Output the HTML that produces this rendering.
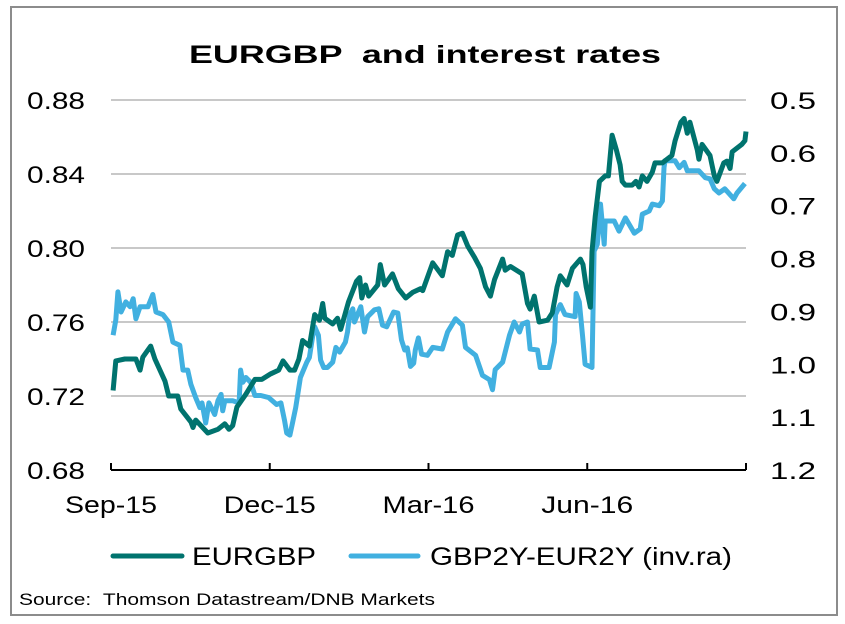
<!DOCTYPE html>
<html><head><meta charset="utf-8"><style>
html,body{margin:0;padding:0;background:#fff;}
svg{display:block;font-family:"Liberation Sans",Arial,sans-serif;}
</style></head><body>
<svg id="chart" width="845" height="624" viewBox="0 0 845 624">
<rect x="11" y="7" width="826" height="608" fill="#fff" stroke="#8c8c8c" stroke-width="2"/>
<text x="189" y="63" font-size="25" font-weight="bold" textLength="472" lengthAdjust="spacingAndGlyphs">EURGBP &#160;and interest rates</text>
<g id="grid"></g>
<g id="yl"></g>
<g id="yr"></g>
<g id="xa"></g>
<g id="series"></g>
<g>
<line x1="113" y1="556" x2="182" y2="556" stroke="#00736e" stroke-width="5" stroke-linecap="round"/>
<text x="192" y="565" font-size="25" textLength="124" lengthAdjust="spacingAndGlyphs">EURGBP</text>
<line x1="351" y1="556" x2="418" y2="556" stroke="#41b0e0" stroke-width="5" stroke-linecap="round"/>
<text x="430" y="565" font-size="25" textLength="302" lengthAdjust="spacingAndGlyphs">GBP2Y-EUR2Y (inv.ra)</text>
</g>
<text x="19" y="605" font-size="17" textLength="416" lengthAdjust="spacingAndGlyphs">Source: &#160;Thomson Datastream/DNB Markets</text>
</svg>
<script>
// months since 1 Sep 2015
const eurMonths=[0.04,0.09,0.26,0.47,0.55,0.60,0.75,0.83,1.02,1.09,1.26,1.32,1.51,1.55,1.60,1.83,2.02,2.15,2.23,2.30,2.38,2.55,2.72,2.85,3.02,3.17,3.25,3.38,3.47,3.55,3.62,3.75,3.85,3.94,4.00,4.04,4.19,4.28,4.34,4.49,4.64,4.70,4.74,4.81,4.87,5.04,5.09,5.17,5.32,5.43,5.57,5.70,5.85,5.89,6.08,6.26,6.36,6.45,6.55,6.64,6.74,6.87,6.98,7.08,7.17,7.25,7.40,7.45,7.55,7.77,7.87,7.92,8.00,8.09,8.25,8.34,8.43,8.49,8.62,8.72,8.87,8.92,8.98,9.06,9.09,9.15,9.23,9.34,9.40,9.47,9.55,9.62,9.66,9.72,9.85,9.92,9.98,10.04,10.13,10.23,10.28,10.42,10.60,10.66,10.77,10.83,10.89,10.94,11.08,11.11,11.17,11.32,11.40,11.45,11.58,11.64,11.70,11.74,11.92,11.98,12.00];
const eurValues=[0.723,0.739,0.740,0.740,0.734,0.741,0.747,0.740,0.728,0.720,0.720,0.713,0.706,0.703,0.707,0.700,0.702,0.705,0.702,0.704,0.714,0.721,0.729,0.729,0.732,0.734,0.739,0.734,0.734,0.740,0.750,0.747,0.764,0.761,0.770,0.762,0.759,0.762,0.756,0.771,0.782,0.784,0.773,0.780,0.774,0.780,0.791,0.780,0.786,0.778,0.773,0.776,0.778,0.777,0.792,0.785,0.798,0.796,0.807,0.808,0.801,0.795,0.789,0.779,0.774,0.783,0.794,0.788,0.790,0.786,0.770,0.767,0.774,0.760,0.761,0.765,0.779,0.785,0.780,0.789,0.794,0.791,0.779,0.768,0.798,0.817,0.836,0.839,0.839,0.861,0.853,0.845,0.836,0.834,0.834,0.836,0.833,0.839,0.836,0.841,0.846,0.846,0.850,0.858,0.868,0.870,0.862,0.868,0.853,0.848,0.856,0.850,0.839,0.836,0.846,0.847,0.843,0.852,0.856,0.858,0.863];
const sprMonths=[0.04,0.09,0.13,0.19,0.28,0.36,0.42,0.47,0.55,0.70,0.79,0.85,0.98,1.09,1.17,1.30,1.36,1.45,1.51,1.60,1.68,1.72,1.79,1.85,1.96,2.02,2.08,2.11,2.15,2.30,2.42,2.45,2.49,2.55,2.64,2.72,2.83,2.98,3.13,3.21,3.28,3.32,3.38,3.43,3.49,3.58,3.70,3.75,3.81,3.85,3.92,3.96,4.02,4.09,4.19,4.25,4.32,4.43,4.47,4.51,4.57,4.60,4.68,4.72,4.79,4.85,4.98,5.06,5.13,5.21,5.34,5.42,5.49,5.55,5.60,5.66,5.72,5.75,5.81,5.87,5.98,6.08,6.26,6.36,6.51,6.64,6.70,6.89,7.02,7.15,7.21,7.26,7.40,7.53,7.62,7.72,7.77,7.87,7.92,8.06,8.11,8.28,8.38,8.40,8.49,8.58,8.77,8.79,8.85,8.91,8.96,9.09,9.13,9.19,9.25,9.32,9.34,9.51,9.60,9.72,9.89,10.00,10.04,10.17,10.23,10.36,10.42,10.45,10.47,10.66,10.74,10.83,10.89,11.11,11.23,11.32,11.40,11.49,11.60,11.77,11.83,11.98];
const sprValues=[0.945,0.916,0.863,0.901,0.882,0.891,0.876,0.914,0.891,0.891,0.868,0.901,0.906,0.920,0.958,0.964,1.011,1.011,1.038,1.063,1.082,1.073,1.111,1.073,1.095,1.069,1.057,1.088,1.069,1.069,1.073,1.011,1.034,1.025,1.034,1.059,1.059,1.063,1.076,1.073,1.107,1.130,1.134,1.111,1.082,1.025,0.996,0.987,0.948,0.929,0.945,0.992,1.006,1.006,0.996,0.968,0.977,0.958,0.939,0.906,0.895,0.920,0.901,0.891,0.939,0.910,0.897,0.895,0.926,0.929,0.901,0.903,0.954,0.973,0.969,1.004,0.998,0.973,0.950,0.981,0.983,0.968,0.971,0.939,0.914,0.926,0.968,0.983,1.021,1.029,1.048,1.010,0.996,0.945,0.920,0.939,0.924,0.920,0.971,0.973,1.006,1.006,0.958,0.906,0.887,0.906,0.910,0.866,0.882,0.945,1.000,1.006,0.786,0.773,0.697,0.773,0.729,0.729,0.748,0.723,0.752,0.744,0.716,0.710,0.697,0.700,0.691,0.628,0.615,0.615,0.628,0.618,0.634,0.634,0.647,0.649,0.668,0.676,0.668,0.687,0.676,0.658];
const leftTicks=[0.68,0.72,0.76,0.80,0.84,0.88];
const leftTickLabels=["0.68","0.72","0.76","0.80","0.84","0.88"];
const rightTicks=[0.5,0.6,0.7,0.8,0.9,1.0,1.1,1.2];
const rightTickLabels=["0.5","0.6","0.7","0.8","0.9","1.0","1.1","1.2"];
const xTicks=[0,3,6,9,12];
const xTickLabels=["Sep-15","Dec-15","Mar-16","Jun-16",""];

const NS="http://www.w3.org/2000/svg";
const X0=111,X1=746,YT=100,YB=470;
const xS=m=>X0+m/12*(X1-X0);
const yL=v=>YB-(v-0.68)/(0.88-0.68)*(YB-YT);
const yR=v=>YT+(v-0.5)/(1.2-0.5)*(YB-YT);
function mk(tag,attrs,parent){const e=document.createElementNS(NS,tag);for(const k in attrs)e.setAttribute(k,attrs[k]);parent.appendChild(e);return e;}
const grid=document.getElementById('grid'),yl=document.getElementById('yl'),yr=document.getElementById('yr'),xa=document.getElementById('xa'),ser=document.getElementById('series');
leftTicks.forEach((v,i)=>{
  if(v>0.68){const g=mk('line',{x1:X0,x2:X1,y1:yL(v),y2:yL(v),stroke:'#c8c8c8','stroke-width':2},grid);
  
  }
  const t=mk('text',{x:85,y:yL(v)+9,'font-size':24,'text-anchor':'end',textLength:58,lengthAdjust:'spacingAndGlyphs'},yl);
  t.textContent=leftTickLabels[i];
  
  
});
rightTicks.forEach((v,i)=>{
  const t=mk('text',{x:770,y:yR(v)+9,'font-size':24,textLength:46,lengthAdjust:'spacingAndGlyphs'},yr);
  t.textContent=rightTickLabels[i];
  
  
});
const ax=mk('line',{x1:X0,x2:X1,y1:YB,y2:YB,stroke:'#000','stroke-width':2},xa);


xTicks.forEach((m,i)=>{
  const tk=mk('line',{x1:xS(m),x2:xS(m),y1:YB,y2:YB-7,stroke:'#000','stroke-width':2},xa);
  
  
  if(xTickLabels[i]){const t=mk('text',{x:xS(m),y:513,'font-size':24,'text-anchor':'middle',textLength:92,lengthAdjust:'spacingAndGlyphs'},xa);
  t.textContent=xTickLabels[i];
  
  }
});
function line(ms,vs,sc,col,name){
  const d=ms.map((m,i)=>(i?'L':'M')+xS(m).toFixed(1)+','+sc(vs[i]).toFixed(1)).join('');
  const p=mk('path',{d:d,fill:'none',stroke:col,'stroke-width':5,'stroke-linejoin':'round'},ser);
  
  
}
line(sprMonths,sprValues,yR,'#41b0e0','spread-line');
line(eurMonths,eurValues,yL,'#00736e','eurgbp-line');
</script>
</body></html>
